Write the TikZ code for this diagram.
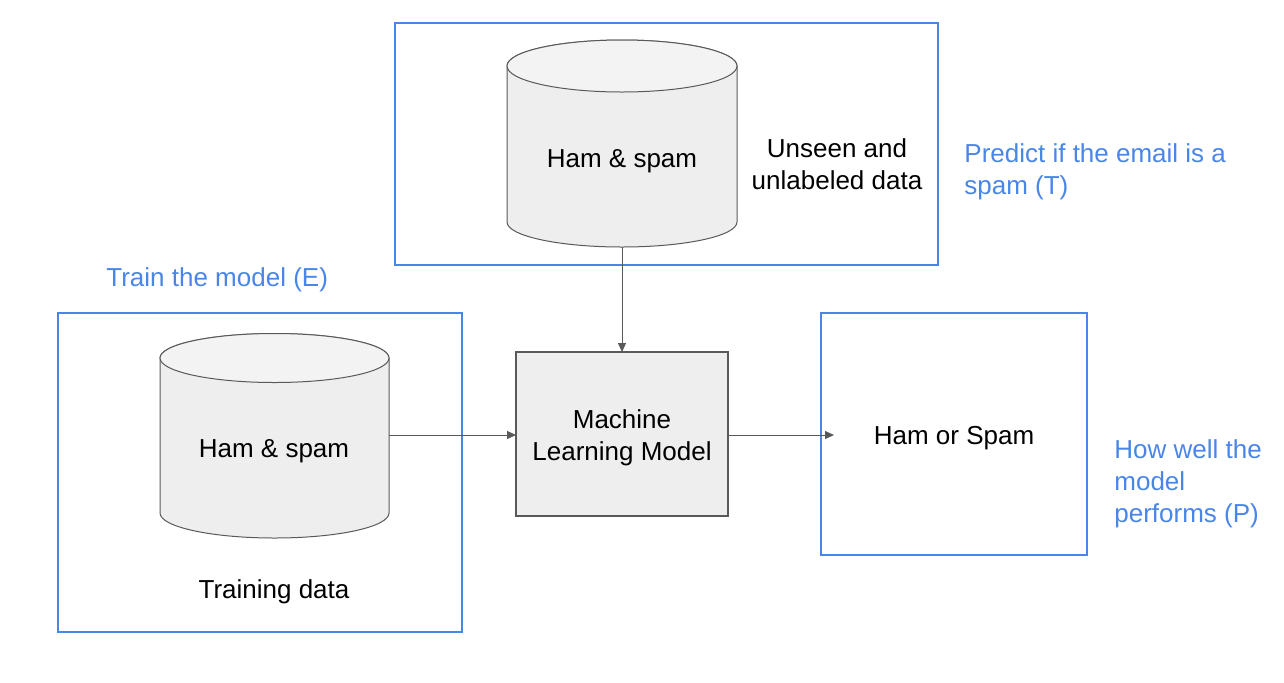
\documentclass[tikz,border=0pt]{standalone}
\usepackage{fontspec}
\setmainfont{Liberation Sans}
\usetikzlibrary{arrows.meta}
\definecolor{gblue}{HTML}{4A86E8}
\definecolor{edgegray}{HTML}{595959}
\definecolor{bodyfill}{HTML}{EEEEEE}
\definecolor{topfill}{HTML}{F3F3F3}
\tikzset{
  frame/.style={draw=gblue, line width=0.6pt, inner sep=0pt, outer sep=0pt},
  txt/.style={inner sep=0pt, align=center, font=\fontsize{13}{16}\selectfont, text=black},
  bluetxt/.style={inner sep=0pt, align=left, anchor=west, font=\fontsize{13}{16}\selectfont, text=gblue},
  cylline/.style={draw=edgegray, line width=0.5pt},
  conn/.style={draw=edgegray, line width=0.5pt, -{Triangle[length=4.5pt,width=4pt]}},
  mlbox/.style={draw=edgegray, fill=bodyfill, line width=0.55pt, minimum width=106pt, minimum height=82pt, inner sep=0pt, outer sep=0pt}
}
\begin{document}
\begin{tikzpicture}[x=0.5pt,y=-0.5pt]
\useasboundingbox[fill=white] (0,0) rectangle (1284,682);

% blue frames
\node[frame, minimum width=271.5pt, minimum height=121pt] (topframe) at (666.5,144) {};
\node[frame, minimum width=202pt, minimum height=159.5pt] (leftframe) at (260,472.5) {};
\node[frame, minimum width=133pt, minimum height=121pt] (rightframe) at (954,434) {};

% top cylinder
\path[cylline, fill=bodyfill] (507,66) -- (507,222)
  arc[start angle=180, end angle=360, x radius=57.5pt, y radius=12.5pt]
  -- (737,66) arc[start angle=0, end angle=180, x radius=57.5pt, y radius=13pt] -- cycle;
\path[cylline, fill=topfill] (622,66) ellipse[x radius=57.5pt, y radius=13pt];
\coordinate (topcylbot) at (622,247);
\node[txt] (tophs) at (622,161) {Ham \& spam};

% left cylinder
\path[cylline, fill=bodyfill] (160,358) -- (160,513)
  arc[start angle=180, end angle=360, x radius=57.25pt, y radius=12.5pt]
  -- (389,358) arc[start angle=0, end angle=180, x radius=57.25pt, y radius=12.25pt] -- cycle;
\path[cylline, fill=topfill] (274.5,358) ellipse[x radius=57.25pt, y radius=12.25pt];
\coordinate (leftcylright) at (389,435);
\node[txt] (lefths) at (274,451) {Ham \& spam};

% ML box
\node[mlbox] (ml) at (622,434) {};
\node[txt] (mltext) at (622,438) {Machine\\Learning Model};

% texts
\node[txt] (unseen) at (837,164) {Unseen and\\unlabeled data};
\node[txt] (training) at (274,592) {Training data};
\node[txt] (hamorspam) at (954,438) {Ham or Spam};
\node[bluetxt] (train) at (106,280) {Train the model (E)};
\node[bluetxt] (predict) at (964,172) {Predict if the email is a\\spam (T)};
\node[bluetxt] (howwell) at (1114,484) {How well the\\model\\performs (P)};

% connectors
\coordinate (outend) at (834,435);
\draw[conn] (topcylbot) -- (ml.north);
\draw[conn] (leftcylright) -- (ml.west |- leftcylright);
\draw[conn] (ml.east |- outend) -- (outend);
\end{tikzpicture}
\end{document}
